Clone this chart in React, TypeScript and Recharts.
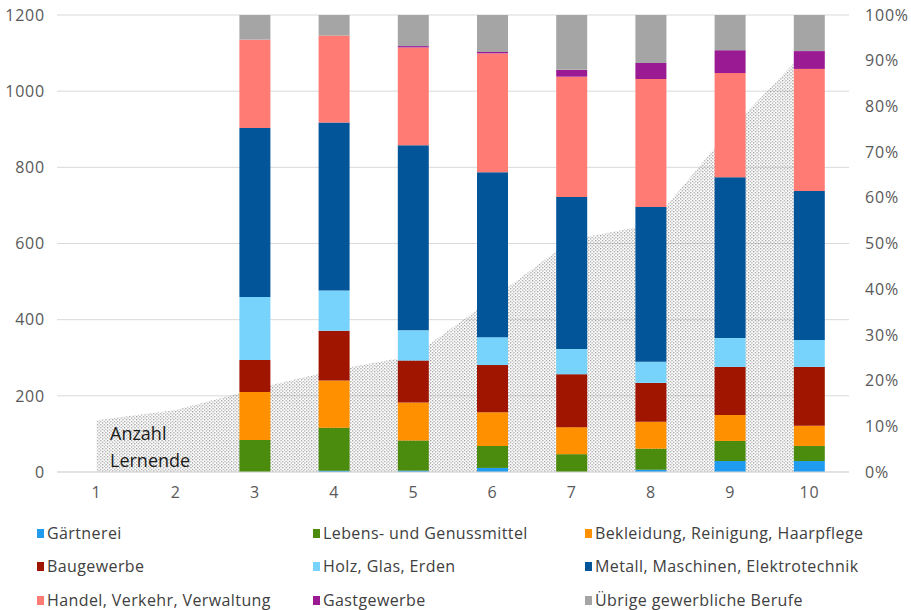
import React from 'react';
import {
  ComposedChart, Bar, Area, XAxis, YAxis, CartesianGrid,
} from 'recharts';

const categories = ['1', '2', '3', '4', '5', '6', '7', '8', '9', '10'];
const lernende = [136, 163, 218, 268, 305, 455, 610, 650, 900, 1115];

const gaertnerei = [null, null, 0, 0.3, 0.3, 0.9, 0, 0.5, 2.4, 2.4];
const lebens = [null, null, 7.0, 9.4, 6.6, 4.8, 3.9, 4.6, 4.4, 3.3];
const bekleidung = [null, null, 10.5, 10.3, 8.3, 7.4, 5.9, 5.9, 5.7, 4.4];
const bau = [null, null, 7.0, 10.9, 9.2, 10.3, 11.6, 8.5, 10.5, 12.9];
const holz = [null, null, 13.8, 8.8, 6.6, 6.1, 5.5, 4.6, 6.3, 5.9];
const metall = [null, null, 37.0, 36.8, 40.5, 36.1, 33.3, 33.9, 35.2, 32.6];
const handel = [null, null, 19.3, 19.0, 21.4, 26.0, 26.3, 28.0, 22.8, 26.7];
const gast = [null, null, 0, 0, 0.3, 0.3, 1.5, 3.5, 5.0, 3.9];
const uebrige = [null, null, 5.4, 4.5, 6.8, 8.1, 12.0, 10.5, 7.7, 7.9];

const leftTicks = [0, 200, 400, 600, 800, 1000, 1200];
const rightTicks = [0, 10, 20, 30, 40, 50, 60, 70, 80, 90, 100];
const boundaryTicks = [0.5, 1.5, 2.5, 3.5, 4.5, 5.5, 6.5, 7.5, 8.5, 9.5, 10.5];

const seriesDefs = [
  { key: 'gaertnerei', name: 'Gärtnerei', color: '#1f9bef', values: gaertnerei },
  { key: 'lebens', name: 'Lebens- und Genussmittel', color: '#4b8b0e', values: lebens },
  { key: 'bekleidung', name: 'Bekleidung, Reinigung, Haarpflege', color: '#ff9100', values: bekleidung },
  { key: 'bau', name: 'Baugewerbe', color: '#a01500', values: bau },
  { key: 'holz', name: 'Holz, Glas, Erden', color: '#77d3fb', values: holz },
  { key: 'metall', name: 'Metall, Maschinen, Elektrotechnik', color: '#03559a', values: metall },
  { key: 'handel', name: 'Handel, Verkehr, Verwaltung', color: '#ff7b73', values: handel },
  { key: 'gast', name: 'Gastgewerbe', color: '#9a1a94', values: gast },
  { key: 'uebrige', name: 'Übrige gewerbliche Berufe', color: '#a5a5a5', values: uebrige },
];

const data = categories.map((c, i) => {
  const row: any = { cat: c, lernende: lernende[i] };
  seriesDefs.forEach((s) => { row[s.key] = s.values[i]; });
  return row;
});

const FONT = '"Open Sans", sans-serif';
const TICK = { fill: '#595959', fontSize: 16, fontFamily: FONT, letterSpacing: 0.8 };

const legendCols = [37, 313, 585];
const legendRows = [533, 566, 600];

export default function App() {
  return (
    <div style={{ position: 'absolute', left: 0, top: 0, width: 911, height: 610, background: '#fff', fontFamily: FONT }}>
      <ComposedChart
        width={911}
        height={520}
        data={data}
        margin={{ top: 15, right: 0, bottom: 18, left: 0 }}
        style={{ fontFamily: FONT }}
      >
        <defs>
          <pattern id="dots" patternUnits="userSpaceOnUse" width="3.4" height="3.2">
            <rect x="0" y="0" width="1.2" height="1.2" fill="#939393" />
            <rect x="1.7" y="1.6" width="1.2" height="1.2" fill="#939393" />
          </pattern>
        </defs>
        <CartesianGrid yAxisId="left" vertical={false} stroke="#d9d9d9" />
        <XAxis
          xAxisId="bounds"
          type="number"
          domain={[0.5, 10.5]}
          ticks={boundaryTicks}
          allowDataOverflow
          height={0}
          tick={false}
          axisLine={false}
          tickLine={{ stroke: '#d9d9d9' }}
          tickSize={5}
        />
        <XAxis
          dataKey="cat"
          height={30}
          axisLine={{ stroke: '#d9d9d9' }}
          tickLine={false}
          tickSize={0}
          tickMargin={15}
          tick={TICK}
          interval={0}
        />
        <YAxis
          yAxisId="left"
          orientation="left"
          width={57}
          domain={[0, 1200]}
          ticks={leftTicks}
          axisLine={false}
          tickLine={false}
          tickSize={0}
          tickMargin={12}
          tick={TICK}
          allowDataOverflow
        />
        <YAxis
          yAxisId="right"
          orientation="right"
          width={62}
          domain={[0, 100]}
          ticks={rightTicks}
          axisLine={false}
          tickLine={false}
          tickSize={0}
          tickMargin={16}
          tick={{ ...TICK, textAnchor: 'start' }}
          tickFormatter={(v: number) => `${v}%`}
          allowDataOverflow
        />
        <Area
          yAxisId="left"
          type="linear"
          dataKey="lernende"
          stroke="none"
          fill="url(#dots)"
          fillOpacity={1}
          isAnimationActive={false}
          dot={false}
          activeDot={false}
        />
        {seriesDefs.map((s) => (
          <Bar
            key={s.key}
            yAxisId="right"
            dataKey={s.key}
            name={s.name}
            stackId="a"
            fill={s.color}
            barSize={31}
            isAnimationActive={false}
          />
        ))}
      </ComposedChart>
      <svg
        width={911}
        height={520}
        style={{ position: 'absolute', left: 0, top: 0, pointerEvents: 'none' }}
      >
        <text x={110} y={440} fontSize={18} fill="#1a1a1a" fontFamily={FONT}>Anzahl</text>
        <text x={110} y={467} fontSize={18} fill="#1a1a1a" fontFamily={FONT}>Lernende</text>
      </svg>
      {seriesDefs.map((s, i) => {
        const col = i % 3;
        const row = Math.floor(i / 3);
        return (
          <div
            key={s.key}
            style={{
              position: 'absolute',
              left: legendCols[col],
              top: legendRows[row] - 11,
              height: 22,
              display: 'flex',
              alignItems: 'center',
              fontSize: 16,
              letterSpacing: 0.4,
              color: '#404040',
              whiteSpace: 'nowrap',
            }}
          >
            <span style={{ display: 'inline-block', width: 7, height: 9, background: s.color, marginRight: 3 }} />
            <span>{s.name}</span>
          </div>
        );
      })}
    </div>
  );
}
